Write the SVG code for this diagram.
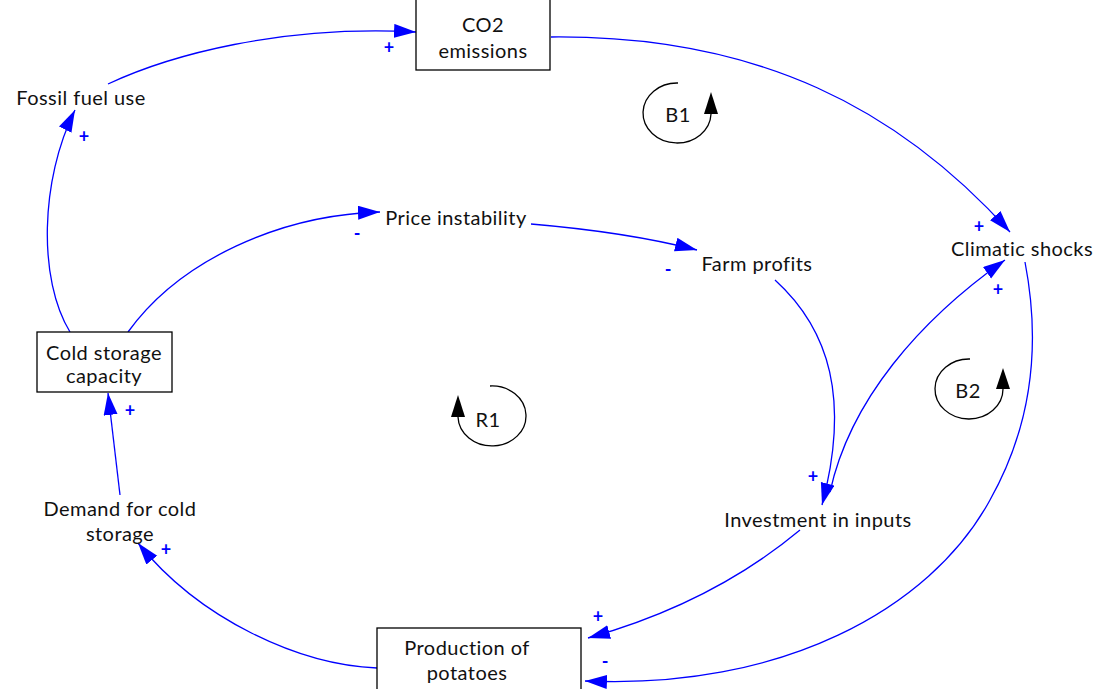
<svg xmlns="http://www.w3.org/2000/svg" width="1110" height="689" viewBox="0 0 1110 689">
<defs>
<style>
.lbl{font-family:Lato,"Open Sans","DejaVu Sans",sans-serif;font-size:20px;letter-spacing:0.45px;fill:#111;text-anchor:middle}
.box{fill:#fff;stroke:#000;stroke-width:1.3}
.lnk{fill:none;stroke:#0000ff;stroke-width:1.3;marker-end:url(#ah)}
.pol{font-family:Lato,"DejaVu Sans",sans-serif;font-size:18px;fill:#0000ff;text-anchor:middle;font-weight:bold}
.loop{fill:none;stroke:#000;stroke-width:1.3}
.lh{fill:#000}
</style>
<marker id="ah" markerUnits="userSpaceOnUse" markerWidth="24" markerHeight="16" refX="22" refY="7" orient="auto">
<path d="M0,0 L22,7 L0,14 z" fill="#0000ff"/>
</marker>
</defs>
<rect width="1110" height="689" fill="#fff"/>
<g id="connectors">
<path class="lnk" d="M108,84 C170,55 280,25 416,32"/>
<path class="lnk" d="M551,37 C760,35 900,110 1010,232"/>
<path class="lnk" d="M70,332 C38,280 40,180 75,110"/>
<path class="lnk" d="M128,332 C180,260 280,215 380,212"/>
<path class="lnk" d="M531,224 C590,229 650,238 697,250"/>
<path class="lnk" d="M775,280 C830,330 850,400 822,505"/>
<path class="lnk" d="M830,492 C850,400 920,320 1005,260"/>
<path class="lnk" d="M1025,262 C1040,340 1035,420 990,500 C930,610 780,690 585,681"/>
<path class="lnk" d="M800,530 C740,580 670,615 588,638"/>
<path class="lnk" d="M377,668 C300,665 200,620 138,543"/>
<path class="lnk" d="M120,495 L108,393"/>
</g>
<g id="polarities">
<text class="pol" x="389" y="54">+</text>
<text class="pol" x="84" y="143">+</text>
<text class="pol" x="357" y="240">-</text>
<text class="pol" x="668" y="276">-</text>
<text class="pol" x="979" y="233">+</text>
<text class="pol" x="998" y="296">+</text>
<text class="pol" x="813" y="483">+</text>
<text class="pol" x="598" y="623">+</text>
<text class="pol" x="605" y="668">-</text>
<text class="pol" x="166" y="556">+</text>
<text class="pol" x="130" y="417">+</text>
</g>
<g id="co2">
<rect class="box" x="416" y="-3" width="134" height="73"/>
<text class="lbl" x="483" y="32">CO2</text>
<text class="lbl" x="483" y="58">emissions</text>
</g>
<g id="fossil">
<text class="lbl" x="81" y="105">Fossil fuel use</text>
</g>
<g id="cold">
<rect class="box" x="37" y="332" width="135" height="60"/>
<text class="lbl" x="104" y="360">Cold storage</text>
<text class="lbl" x="104" y="383">capacity</text>
</g>
<g id="demand">
<text class="lbl" x="120" y="516">Demand for cold</text>
<text class="lbl" x="120" y="541">storage</text>
</g>
<g id="production">
<rect class="box" x="377" y="628" width="204" height="70"/>
<text class="lbl" x="467" y="655">Production of</text>
<text class="lbl" x="467" y="680">potatoes</text>
</g>
<g id="price">
<text class="lbl" x="456" y="225">Price instability</text>
</g>
<g id="farm">
<text class="lbl" x="757" y="271">Farm profits</text>
</g>
<g id="climatic">
<text class="lbl" x="1022" y="256">Climatic shocks</text>
</g>
<g id="investment">
<text class="lbl" x="818" y="527">Investment in inputs</text>
</g>
<g id="loopB1">
<path class="loop" d="M678,83 A34,30 0 1 0 711,114"/>
<path class="lh" d="M711,92 L718,114 L704,114 z"/>
<text class="lbl" x="678" y="122">B1</text>
</g>
<g id="loopB2">
<path class="loop" d="M970,359 A34,30 0 1 0 1003,389"/>
<path class="lh" d="M1003,368 L1010,389 L996,389 z"/>
<text class="lbl" x="968" y="398">B2</text>
</g>
<g id="loopR1">
<path class="loop" d="M490,386 A34,30 0 1 1 458,417"/>
<path class="lh" d="M458,395 L465,417 L451,417 z"/>
<text class="lbl" x="488" y="427">R1</text>
</g>
</svg>
